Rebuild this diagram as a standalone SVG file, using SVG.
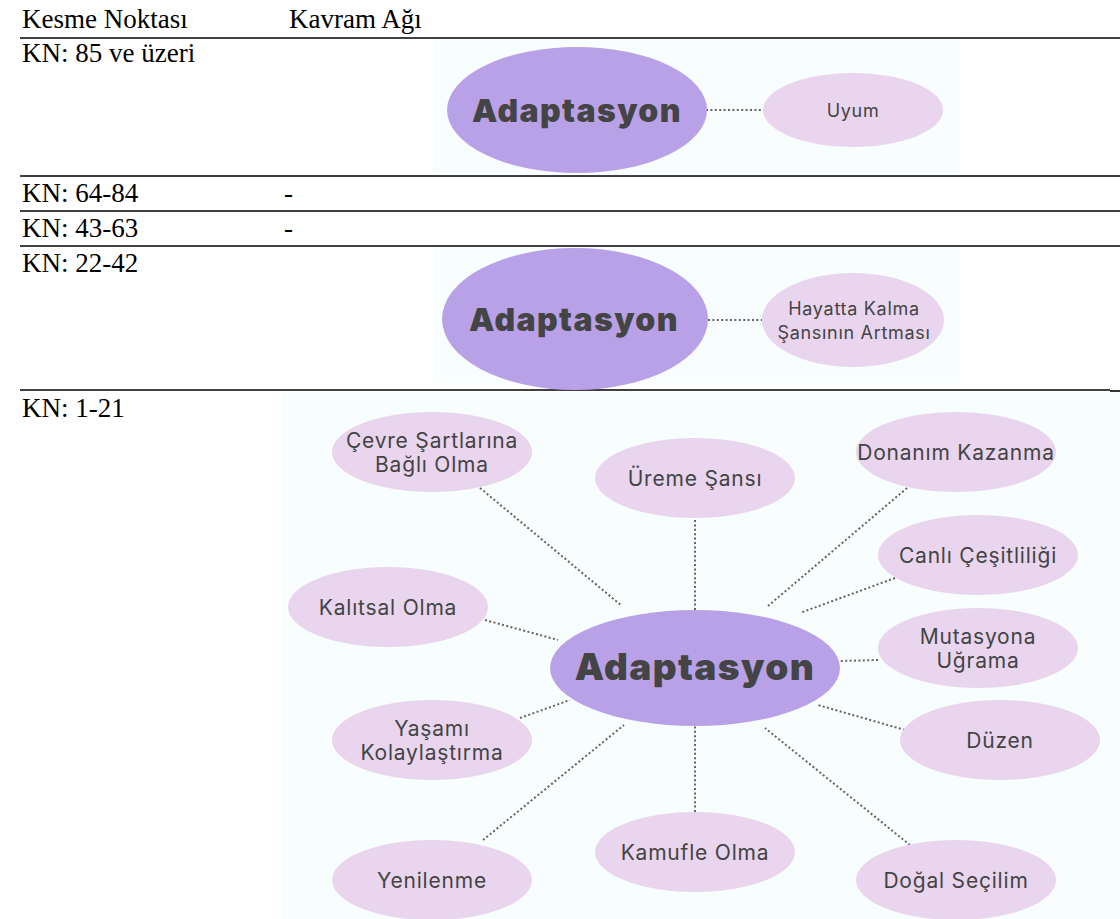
<svg xmlns="http://www.w3.org/2000/svg" width="1120" height="919" viewBox="0 0 1120 919">
<style>
.tbl{font-family:"Liberation Serif","Times New Roman",serif;font-size:27px;fill:#000}
.rule{stroke:#000;stroke-width:1.6}
.bg{fill:#f8fdfd}
.main{fill:#b9a1e8}
.sub{fill:#e9d5ee}
.mt{font-family:Inter,"Noto Sans",sans-serif;font-weight:900;fill:#444;text-anchor:middle;dominant-baseline:central;letter-spacing:1.4px}
.st{font-family:Inter,"Noto Sans",sans-serif;font-size:21px;fill:#444;text-anchor:middle;dominant-baseline:central;letter-spacing:0.8px}
.st2{font-family:Inter,"Noto Sans",sans-serif;font-size:18px;fill:#444;text-anchor:middle;dominant-baseline:central;letter-spacing:0.7px}
.con{stroke:#6a6262;stroke-width:2;stroke-dasharray:2 2.4;fill:none}
</style>
<rect width="1120" height="919" fill="#fff"/>
<g id="table">
<text class="tbl" x="22" y="28">Kesme Noktası</text>
<text class="tbl" x="289" y="28">Kavram Ağı</text>
<line class="rule" x1="20" y1="38" x2="1120" y2="38"/>
<text class="tbl" x="22" y="62">KN: 85 ve üzeri</text>
<line class="rule" x1="20" y1="176" x2="1120" y2="176"/>
<text class="tbl" x="22" y="202">KN: 64-84</text>
<text class="tbl" x="284" y="202">-</text>
<line class="rule" x1="20" y1="211" x2="1120" y2="211"/>
<text class="tbl" x="22" y="237">KN: 43-63</text>
<text class="tbl" x="284" y="237">-</text>
<line class="rule" x1="20" y1="246" x2="1120" y2="246"/>
<text class="tbl" x="22" y="272">KN: 22-42</text>
<line class="rule" x1="20" y1="390" x2="1110" y2="390"/>
<line class="rule" x1="1110" y1="391" x2="1120" y2="391"/>
<text class="tbl" x="22" y="417">KN: 1-21</text>
</g>
<rect class="bg" x="433" y="39" width="527" height="136"/>
<rect class="bg" x="433" y="247" width="527" height="136"/>
<rect class="bg" x="283" y="392" width="837" height="527"/>
<g id="connectors">
<line class="con" x1="706" y1="110" x2="762" y2="110"/>
<line class="con" x1="708" y1="320" x2="762" y2="320"/>
<line class="con" x1="480" y1="488" x2="622" y2="606"/>
<line class="con" x1="695" y1="520" x2="695" y2="610"/>
<line class="con" x1="907" y1="488" x2="768" y2="606"/>
<line class="con" x1="895" y1="578" x2="800" y2="613"/>
<line class="con" x1="485" y1="620" x2="558" y2="640"/>
<line class="con" x1="878" y1="660" x2="840" y2="661"/>
<line class="con" x1="905" y1="730" x2="818" y2="705"/>
<line class="con" x1="910" y1="845" x2="765" y2="728"/>
<line class="con" x1="695" y1="812" x2="695" y2="726"/>
<line class="con" x1="483" y1="840" x2="624" y2="725"/>
<line class="con" x1="520" y1="718" x2="570" y2="700"/>
</g>
<g id="r1-adaptasyon"><ellipse class="main" cx="577" cy="110" rx="130" ry="63"/><text class="mt" x="577" y="110" font-size="32">Adaptasyon</text></g>
<g id="r1-uyum"><ellipse class="sub" cx="853" cy="110" rx="90" ry="37"/><text class="st2" x="853" y="110">Uyum</text></g>
<g id="r4-adaptasyon"><ellipse class="main" cx="575" cy="319" rx="133" ry="71"/><text class="mt" x="574" y="319" font-size="32">Adaptasyon</text></g>
<g id="r4-hayatta"><ellipse class="sub" cx="853" cy="320" rx="91" ry="47"/><text class="st2" x="854" y="308">Hayatta Kalma</text><text class="st2" x="854" y="332">Şansının Artması</text></g>
<g id="center"><ellipse class="main" cx="695" cy="668" rx="145" ry="58"/><text class="mt" x="695" y="666" font-size="37">Adaptasyon</text></g>
<g id="cevre"><ellipse class="sub" cx="432" cy="452" rx="100" ry="40"/><text class="st" x="432" y="440">Çevre Şartlarına</text><text class="st" x="432" y="464">Bağlı Olma</text></g>
<g id="ureme"><ellipse class="sub" cx="695" cy="478" rx="100" ry="40"/><text class="st" x="695" y="478">Üreme Şansı</text></g>
<g id="donanim"><ellipse class="sub" cx="956" cy="452" rx="100" ry="40"/><text class="st" x="956" y="452">Donanım Kazanma</text></g>
<g id="canli"><ellipse class="sub" cx="978" cy="555" rx="100" ry="40"/><text class="st" x="978" y="555">Canlı Çeşitliliği</text></g>
<g id="kalitsal"><ellipse class="sub" cx="388" cy="607" rx="100" ry="40"/><text class="st" x="388" y="607">Kalıtsal Olma</text></g>
<g id="mutasyon"><ellipse class="sub" cx="978" cy="648" rx="100" ry="40"/><text class="st" x="978" y="636">Mutasyona</text><text class="st" x="978" y="660">Uğrama</text></g>
<g id="yasami"><ellipse class="sub" cx="432" cy="740" rx="100" ry="40"/><text class="st" x="432" y="728">Yaşamı</text><text class="st" x="432" y="752">Kolaylaştırma</text></g>
<g id="duzen"><ellipse class="sub" cx="1000" cy="740" rx="100" ry="40"/><text class="st" x="1000" y="740">Düzen</text></g>
<g id="kamufle"><ellipse class="sub" cx="695" cy="852" rx="100" ry="40"/><text class="st" x="695" y="852">Kamufle Olma</text></g>
<g id="yenilenme"><ellipse class="sub" cx="432" cy="880" rx="100" ry="40"/><text class="st" x="432" y="880">Yenilenme</text></g>
<g id="dogal"><ellipse class="sub" cx="956" cy="880" rx="100" ry="40"/><text class="st" x="956" y="880">Doğal Seçilim</text></g>
</svg>
